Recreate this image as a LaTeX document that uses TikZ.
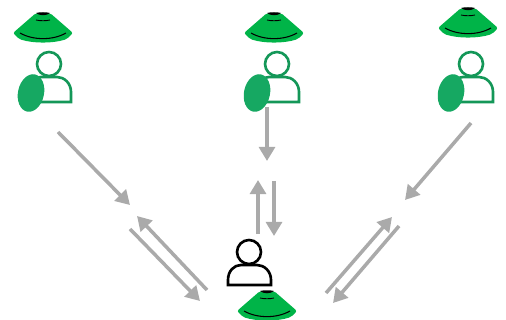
\documentclass[tikz,border=0pt]{standalone}
\usepackage[usenames]{xcolor}
\usetikzlibrary{positioning}
\usetikzlibrary{arrows.meta}

\definecolor{conegreen}{RGB}{0,180,72}
\definecolor{usergreen}{RGB}{22,168,98}
\definecolor{arrowgray}{RGB}{170,170,170}

\tikzset{
    flow/.style={draw=arrowgray, line width=2pt, -{Triangle[length=8pt,width=9pt]}},
    cone/.pic={
        \fill[conegreen, rounded corners=1.2pt] (-7,-15) -- (7,-15) -- (30,5) -- (24,11)
            .. controls (10,15.5) and (-10,15.5) .. (-24,11) -- (-30,5) -- cycle;
        \fill[black] (-7,-15) .. controls (-3,-16) and (3,-16) .. (7,-15)
            .. controls (3,-12) and (-3,-12) .. cycle;
        \draw[black, line width=.5pt] (-7,-8) .. controls (-3,-7) and (3,-7) .. (7,-8);
        \draw[black, line width=.6pt] (-23,5) .. controls (-10,12.5) and (10,12.5) .. (23,5);
    },
    pics/bust/.style={code={
        \draw[line width=1.5pt, pic actions] (0,0) circle (12);
        \draw[line width=1.5pt, pic actions] (-21,#1) -- (-21,28)
            .. controls (-21,19) and (-15,13) .. (-8,13) -- (8,13)
            .. controls (15,13) and (22,19) .. (22,28) -- (22,#1) -- cycle;
    }},
}

\begin{document}
\begin{tikzpicture}[x=0.02cm,y=-0.02cm]
    \useasboundingbox (0,0) rectangle (506,320);

    \pic at (43,28) {cone};
    \pic at (274,28) {cone};
    \pic at (468,23) {cone};
    \pic at (267,306) {cone};

    \pic[draw=usergreen!90!black] at (49,64) {bust=38};
    \pic[draw=usergreen!90!black] at (277,64) {bust=38};
    \pic[draw=usergreen!90!black] at (471,64) {bust=38};
    \pic[draw=black] at (249,252) {bust=33};

    \fill[usergreen, rotate around={-12:(31,93)}] (31,93) ellipse (13 and 19);
    \fill[usergreen, rotate around={-12:(257,93)}] (257,93) ellipse (13 and 19);
    \fill[usergreen, rotate around={-12:(451,93)}] (451,93) ellipse (13 and 19);

    \coordinate (a1) at (58,132);   \coordinate (a2) at (130,205);
    \coordinate (b1) at (207,290);  \coordinate (b2) at (137,216);
    \coordinate (c1) at (130,229);  \coordinate (c2) at (200,301);
    \coordinate (d1) at (267,107);  \coordinate (d2) at (267,161);
    \coordinate (e1) at (258,234);  \coordinate (e2) at (258,180);
    \coordinate (f1) at (274,181);  \coordinate (f2) at (274,236);
    \coordinate (g1) at (471,123);  \coordinate (g2) at (405,200);
    \coordinate (h1) at (326,293);  \coordinate (h2) at (392,217);
    \coordinate (i1) at (399,226);  \coordinate (i2) at (333,303);

    \foreach \s/\t in {a1/a2, b1/b2, c1/c2, d1/d2, e1/e2, f1/f2, g1/g2, h1/h2, i1/i2}
        \draw[flow] (\s) -- (\t);
\end{tikzpicture}
\end{document}
